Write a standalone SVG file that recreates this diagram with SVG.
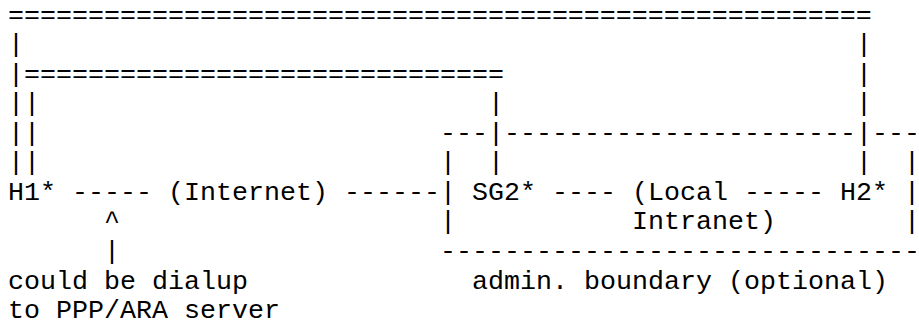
<svg xmlns="http://www.w3.org/2000/svg" width="919" height="326" viewBox="0 0 919 326">
<style>
text{font-family:"Courier New","Liberation Mono",monospace;font-size:26.67px;fill:#000;white-space:pre}
</style>
<rect width="919" height="326" fill="#fff"/>
<g id="connectors">
<text x="8" y="22.5">======================================================</text>
<text x="8" y="52.1">|</text><text x="856" y="52.1">|</text>
<text x="8" y="81.6">|</text><text x="24" y="81.6">==============================</text><text x="856" y="81.6">|</text>
<text x="8" y="111.2">||</text><text x="488" y="111.2">|</text><text x="856" y="111.2">|</text>
<text x="8" y="140.7">||</text>
<text x="8" y="170.3">||</text><text x="488" y="170.3">|</text><text x="856" y="170.3">|</text>
<text x="72" y="199.8">-----</text>
<text x="344" y="199.8">------</text>
<text x="552" y="199.8">----</text>
<text x="744" y="199.8">-----</text>
<text x="104" y="229.4">^</text>
<text x="104" y="258.9">|</text>
</g>
<g id="admin-boundary">
<text x="440" y="140.7">---|----------------------|---</text>
<text x="440" y="170.3">|</text><text x="904" y="170.3">|</text>
<text x="440" y="199.8">|</text><text x="904" y="199.8">|</text>
<text x="440" y="229.4">|</text><text x="904" y="229.4">|</text>
<text x="440" y="258.9">------------------------------</text>
<text x="472" y="288.5">admin. boundary (optional)</text>
</g>
<g id="H1"><text x="8" y="199.8">H1*</text></g>
<g id="Internet"><text x="168" y="199.8">(Internet)</text></g>
<g id="SG2"><text x="472" y="199.8">SG2*</text></g>
<g id="LocalIntranet"><text x="632" y="199.8">(Local</text><text x="632" y="229.4">Intranet)</text></g>
<g id="H2"><text x="840" y="199.8">H2*</text></g>
<g id="note"><text x="8" y="288.5">could be dialup</text><text x="8" y="318">to PPP/ARA server</text></g>
</svg>
